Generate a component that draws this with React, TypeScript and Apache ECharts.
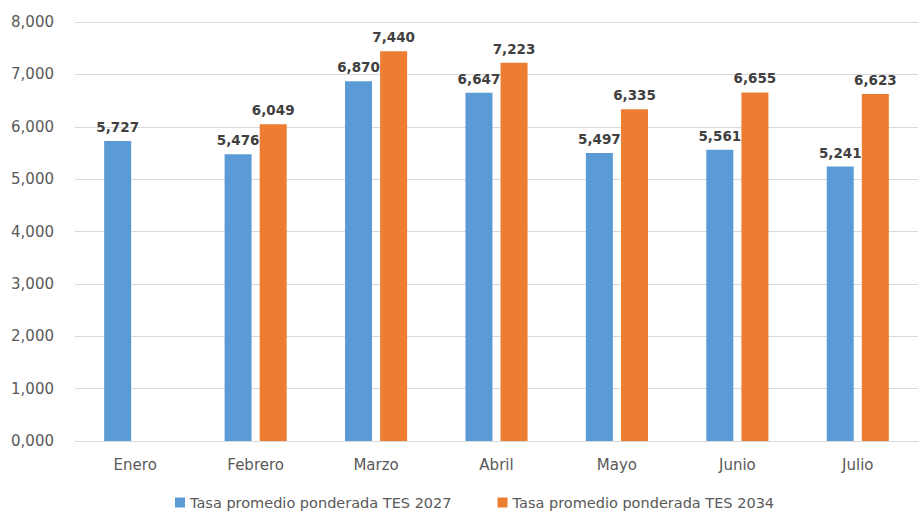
import React, { useEffect, useRef } from "react";
import * as echarts from "echarts";

const categories = ["Enero", "Febrero", "Marzo", "Abril", "Mayo", "Junio", "Julio"];
const tes2027 = [5.727, 5.476, 6.87, 6.647, 5.497, 5.561, 5.241];
const tes2034: (number | null)[] = [null, 6.049, 7.44, 7.223, 6.335, 6.655, 6.623];
const seriesNames = ["Tasa promedio ponderada TES 2027", "Tasa promedio ponderada TES 2034"];

const fmt = (v: number) => v.toFixed(3).replace(".", ",");

export default function App() {
  const ref = useRef<HTMLDivElement>(null);
  useEffect(() => {
    const chart = echarts.init(ref.current!, null, { renderer: "svg" });
    const font = "DejaVu Sans";
    const labelStyle = {
      show: true,
      position: "top",
      distance: 7,
      color: "#404040",
      fontWeight: "bold",
      fontSize: 13.5,
      fontFamily: font,
      formatter: (p: any) => fmt(p.value),
    };
    chart.setOption({
      animation: false,
      textStyle: { fontFamily: font },
      grid: { left: 75, right: 2, top: 22, bottom: 73 },
      legend: {
        top: 495,
        left: 175,
        padding: 0,
        itemWidth: 10,
        itemHeight: 10,
        itemGap: 46,
        icon: "rect",
        textStyle: { fontSize: 14.5, color: "#595959", fontFamily: font },
        data: seriesNames,
      },
      xAxis: {
        type: "category",
        data: categories,
        axisLine: { lineStyle: { color: "#d9d9d9" } },
        axisTick: { show: false },
        axisLabel: { color: "#595959", fontSize: 15, margin: 16, fontFamily: font },
      },
      yAxis: {
        type: "value",
        min: 0,
        max: 8,
        interval: 1,
        axisLine: { show: false },
        axisTick: { show: false },
        splitLine: { lineStyle: { color: "#d9d9d9" } },
        axisLabel: { color: "#595959", fontSize: 15, margin: 21, fontFamily: font, formatter: (v: number) => fmt(v) },
      },
      series: [
        {
          name: seriesNames[0],
          type: "bar",
          data: tes2027,
          barWidth: 27,
          barGap: "30%",
          itemStyle: { color: "#5B9BD5" },
          label: labelStyle,
        },
        {
          name: seriesNames[1],
          type: "bar",
          data: tes2034,
          barWidth: 27,
          itemStyle: { color: "#ED7D31" },
          label: labelStyle,
        },
      ],
    });
    return () => chart.dispose();
  }, []);
  return (
    <div
      ref={ref}
      style={{ position: "fixed", left: 0, top: 0, width: 920, height: 514, background: "#fff" }}
    />
  );
}
